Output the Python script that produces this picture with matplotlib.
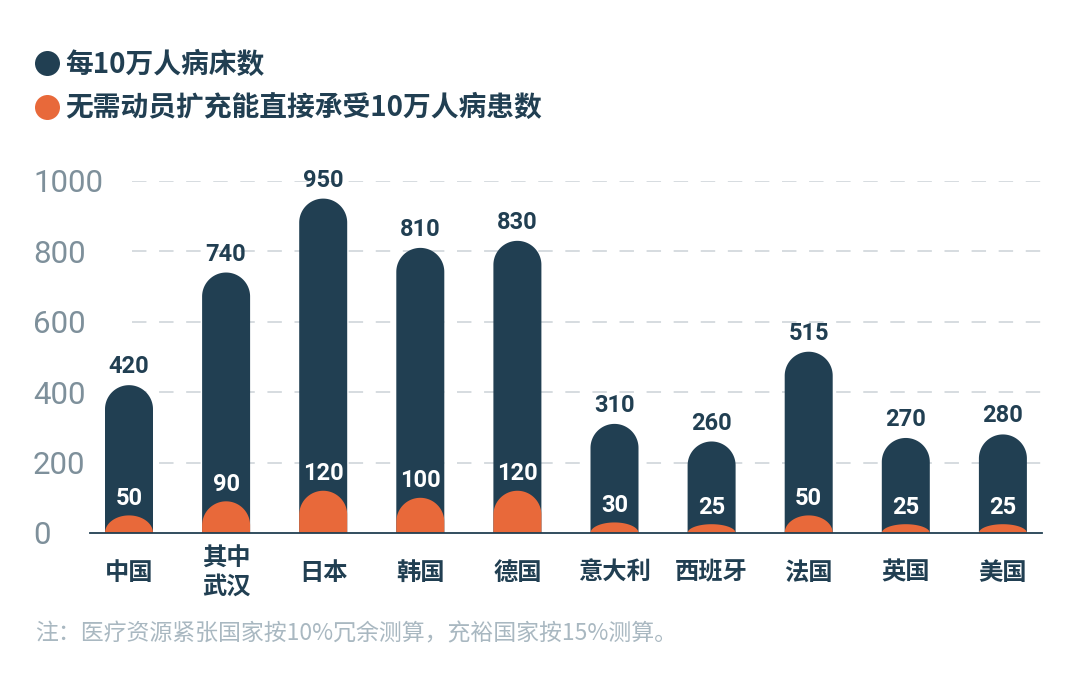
import numpy as np
import matplotlib
matplotlib.use("Agg")
import matplotlib.pyplot as plt
from matplotlib.patches import Polygon
from matplotlib.lines import Line2D

plt.rcParams['font.family'] = ['Noto Sans CJK SC', 'DejaVu Sans']

# ---- data ----
countries = ["中国", "其中\n武汉", "日本", "韩国", "德国", "意大利", "西班牙", "法国", "英国", "美国"]
beds = [420, 740, 950, 810, 830, 310, 260, 515, 270, 280]
capacity = [50, 90, 120, 100, 120, 30, 25, 50, 25, 25]
yticks = [0, 200, 400, 600, 800, 1000]
legend_labels = ["每10万人病床数", "无需动员扩充能直接承受10万人病患数"]
note = "注：医疗资源紧张国家按10%冗余测算，充裕国家按15%测算。"

NAVY = "#213f52"
ORANGE = "#e8693a"
GRAY = "#7e909b"
NOTE_GRAY = "#a9b8c1"
GRID = "#d3d9dd"

W, H = 1080, 685
fig = plt.figure(figsize=(W / 100, H / 100), dpi=100)
fig.patch.set_facecolor("white")

ax_left, ax_right, ax_bottom, ax_top = 90, 1042, 533, 181
ax = fig.add_axes([ax_left / W, (H - ax_bottom) / H, (ax_right - ax_left) / W, (ax_bottom - ax_top) / H])
ax.set_facecolor("none")

x = np.arange(len(countries))
px_per_unit = 97.1
ax.set_xlim((ax_left - 129) / px_per_unit, (ax_right - 129) / px_per_unit)
ax.set_ylim(0, 1000)

bar_w = 48 / px_per_unit
# radius of cap in data-y units (circular in pixels)
ry_full = (24 / (ax_bottom - ax_top)) * 1000


def capsule(xc, h, color, z):
    ry = min(ry_full, h)
    base = h - ry
    t = np.linspace(np.pi, 0, 60)
    arc = np.column_stack([xc + (bar_w / 2) * np.cos(t), base + ry * np.sin(t)])
    pts = np.vstack([[xc - bar_w / 2, 0], arc, [xc + bar_w / 2, 0]])
    ax.add_patch(Polygon(pts, closed=True, facecolor=color, edgecolor="none", zorder=z))


# grid
for yv in yticks[1:]:
    ax.plot([(132 - 129) / px_per_unit, ax.get_xlim()[1]], [yv, yv], color=GRID, lw=1.3,
            linestyle=(0, (8, 7)), zorder=1)

num_font = dict(family=["Roboto", "DejaVu Sans"])
for xi, b, c in zip(x, beds, capacity):
    capsule(xi, b, NAVY, 3)
    capsule(xi, c, ORANGE, 4)
    ax.annotate(str(b), (xi, b), xytext=(0, 5), textcoords="offset points", ha="center", va="bottom",
                fontsize=17, color=NAVY, fontweight="bold", zorder=6, **num_font)
    ax.annotate(str(c), (xi, c), xytext=(0, 4), textcoords="offset points", ha="center", va="bottom",
                fontsize=17, color="white", fontweight="bold", zorder=6, **num_font)
for xi, name in zip(x, countries):
    ax.annotate(name, (xi, 0), xytext=(0, -28.5), textcoords="offset points", ha="center", va="center",
                fontsize=17.5, color=NAVY, fontweight="bold", linespacing=1.2)

# axes styling
for s in ["top", "right", "left"]:
    ax.spines[s].set_visible(False)
ax.spines["bottom"].set_color(NAVY)
ax.spines["bottom"].set_linewidth(1.3)
ax.spines["bottom"].set_zorder(5)
ax.set_xticks([])
ax.set_yticks(yticks)
ax.set_yticklabels([str(v) for v in yticks], fontsize=22.5, color=GRAY, **num_font)
ax.tick_params(axis="y", length=0, pad=(ax_left - 33) * 0.72)
for lab in ax.get_yticklabels():
    lab.set_horizontalalignment("left")

# legend
handles = [Line2D([], [], marker="o", linestyle="none", markersize=18, markerfacecolor=NAVY, markeredgecolor="none"),
           Line2D([], [], marker="o", linestyle="none", markersize=18, markerfacecolor=ORANGE, markeredgecolor="none")]
leg = fig.legend(handles, legend_labels, loc="upper left", bbox_to_anchor=(19.5 / W, 1 - 40 / H),
                 frameon=False, handletextpad=0.05, labelspacing=0.55, borderaxespad=0, handlelength=1.19,
                 prop=dict(family=["Noto Sans CJK SC", "DejaVu Sans"], size=20, weight="bold"))
for t in leg.get_texts():
    t.set_color(NAVY)

fig.text(35 / W, 1 - 634 / H, note, fontsize=16.5, color=NOTE_GRAY, ha="left", va="center")

fig.savefig("out.png", dpi=100, facecolor="white")
